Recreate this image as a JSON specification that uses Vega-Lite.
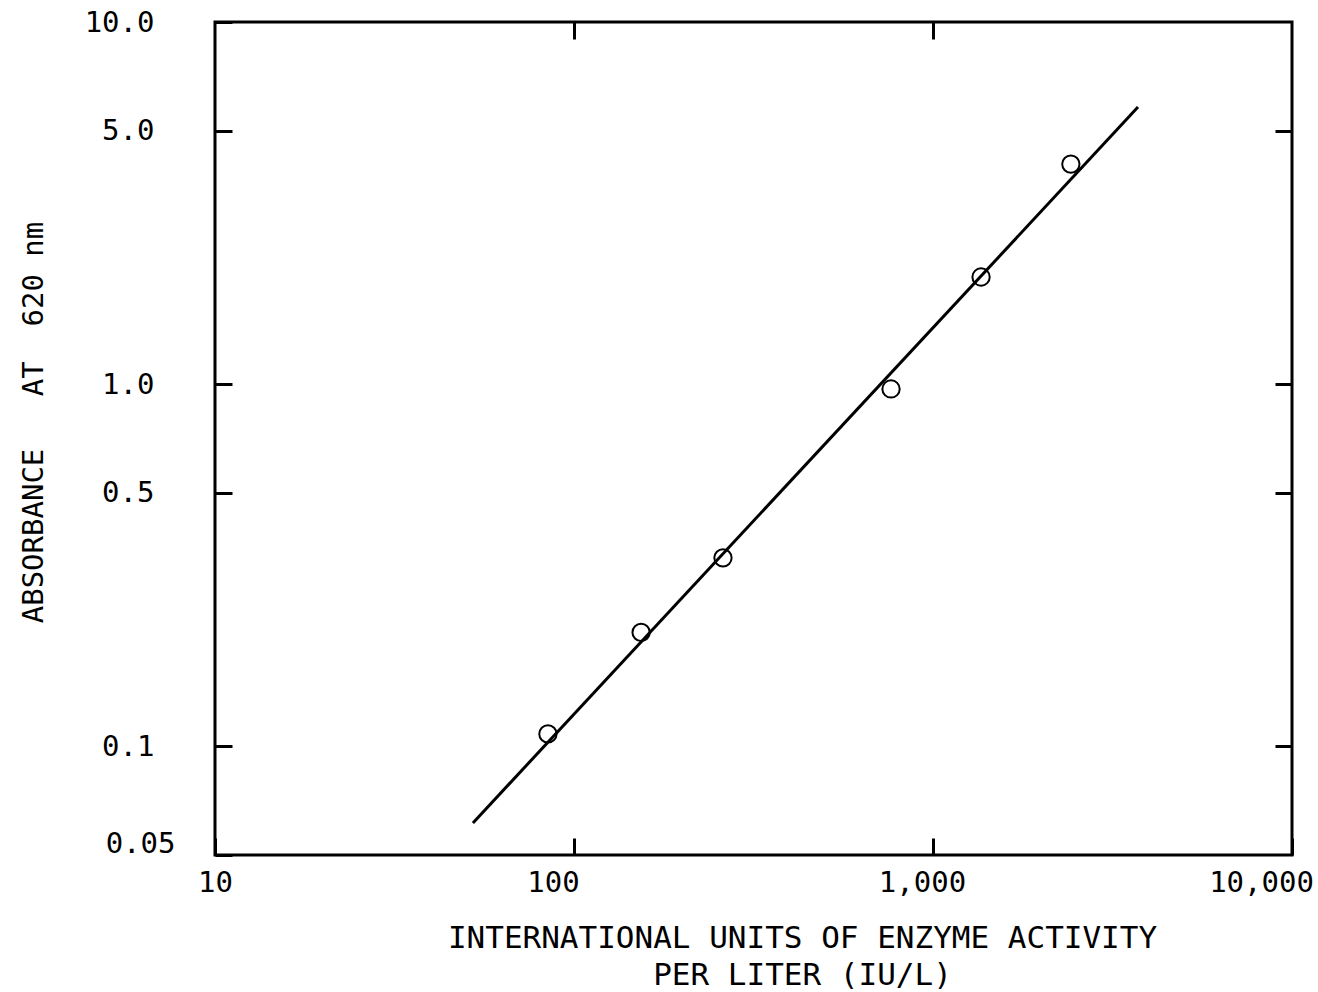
{
  "$schema": "https://vega.github.io/schema/vega-lite/v6.json",
  "width": 1077,
  "height": 833,
  "autosize": "none",
  "padding": {"left": 215, "top": 22, "right": 26, "bottom": 137},
  "background": "white",
  "config": {
    "font": "DejaVu Sans Mono",
    "view": {"stroke": "black", "strokeWidth": 3},
    "axis": {
      "domain": false,
      "grid": false,
      "ticks": true,
      "tickColor": "black",
      "tickWidth": 3,
      "tickSize": -17,
      "labelFont": "DejaVu Sans Mono",
      "labelFontSize": 29,
      "labelColor": "black",
      "titleFont": "DejaVu Sans Mono",
      "titleFontSize": 31,
      "titleFontWeight": "normal",
      "titleColor": "black"
    }
  },
  "datasets": {
    "fit": [
      {"iu": 52.3, "abs": 0.0613},
      {"iu": 3724, "abs": 5.82}
    ],
    "pts": [
      {"iu": 84.6, "abs": 0.108},
      {"iu": 153.8, "abs": 0.206},
      {"iu": 260, "abs": 0.331},
      {"iu": 764, "abs": 0.969},
      {"iu": 1361, "abs": 1.975},
      {"iu": 2421, "abs": 4.05}
    ]
  },
  "layer": [
    {
      "data": {"name": "fit"},
      "mark": {"type": "line", "color": "black", "strokeWidth": 3},
      "encoding": {
        "x": {
          "field": "iu", "type": "quantitative",
          "scale": {"type": "log", "domain": [10, 10000], "nice": false},
          "axis": {
            "orient": "bottom",
            "values": [10, 100, 1000, 10000],
            "labelExpr": "format(datum.value, ',')",
            "labelPadding": 30,
            "labelOffset": {"expr": "datum.value == 100 ? -21 : datum.value == 1000 ? -11 : datum.value == 10000 ? -31 : 0"},
            "labelFlush": false,
            "labelOverlap": false,
            "title": ["INTERNATIONAL UNITS OF ENZYME ACTIVITY", "PER LITER (IU/L)"],
            "titleX": 587,
            "titleY": 68,
            "titleAlign": "center",
            "titleBaseline": "top",
            "titleLineHeight": 37
          }
        },
        "y": {
          "field": "abs", "type": "quantitative",
          "scale": {"type": "log", "domain": [0.05, 10], "nice": false},
          "axis": {
            "orient": "left",
            "values": [0.05, 0.1, 0.5, 1, 5, 10],
            "labelExpr": "datum.value < 0.07 ? '0.05' : format(datum.value, '.1f')",
            "labelPadding": {"expr": "datum.value < 0.07 ? 57 : 78"},
            "labelOffset": {"expr": "datum.value < 0.07 ? -12 : 0"},
            "labelFlush": false,
            "labelOverlap": false,
            "title": "ABSORBANCE\u00a0\u00a0\u00a0AT\u00a0\u00a0620\u00a0nm",
            "titleFontSize": 29,
            "titleAngle": -90,
            "titleX": -182,
            "titleY": 400,
            "titleAlign": "center",
            "titleBaseline": "middle"
          }
        }
      }
    },
    {
      "data": {"name": "pts"},
      "mark": {"type": "point", "shape": "circle", "size": 300, "color": "black", "strokeWidth": 2, "filled": false, "opacity": 1},
      "encoding": {
        "x": {
          "field": "iu", "type": "quantitative",
          "scale": {"type": "log", "domain": [10, 10000], "nice": false},
          "axis": {"orient": "top", "values": [100, 1000], "labels": false, "title": null}
        },
        "y": {
          "field": "abs", "type": "quantitative",
          "scale": {"type": "log", "domain": [0.05, 10], "nice": false},
          "axis": {"orient": "right", "values": [0.1, 0.5, 1, 5], "labels": false, "title": null}
        }
      }
    }
  ],
  "resolve": {"scale": {"x": "independent", "y": "independent"}, "axis": {"x": "independent", "y": "independent"}}
}
